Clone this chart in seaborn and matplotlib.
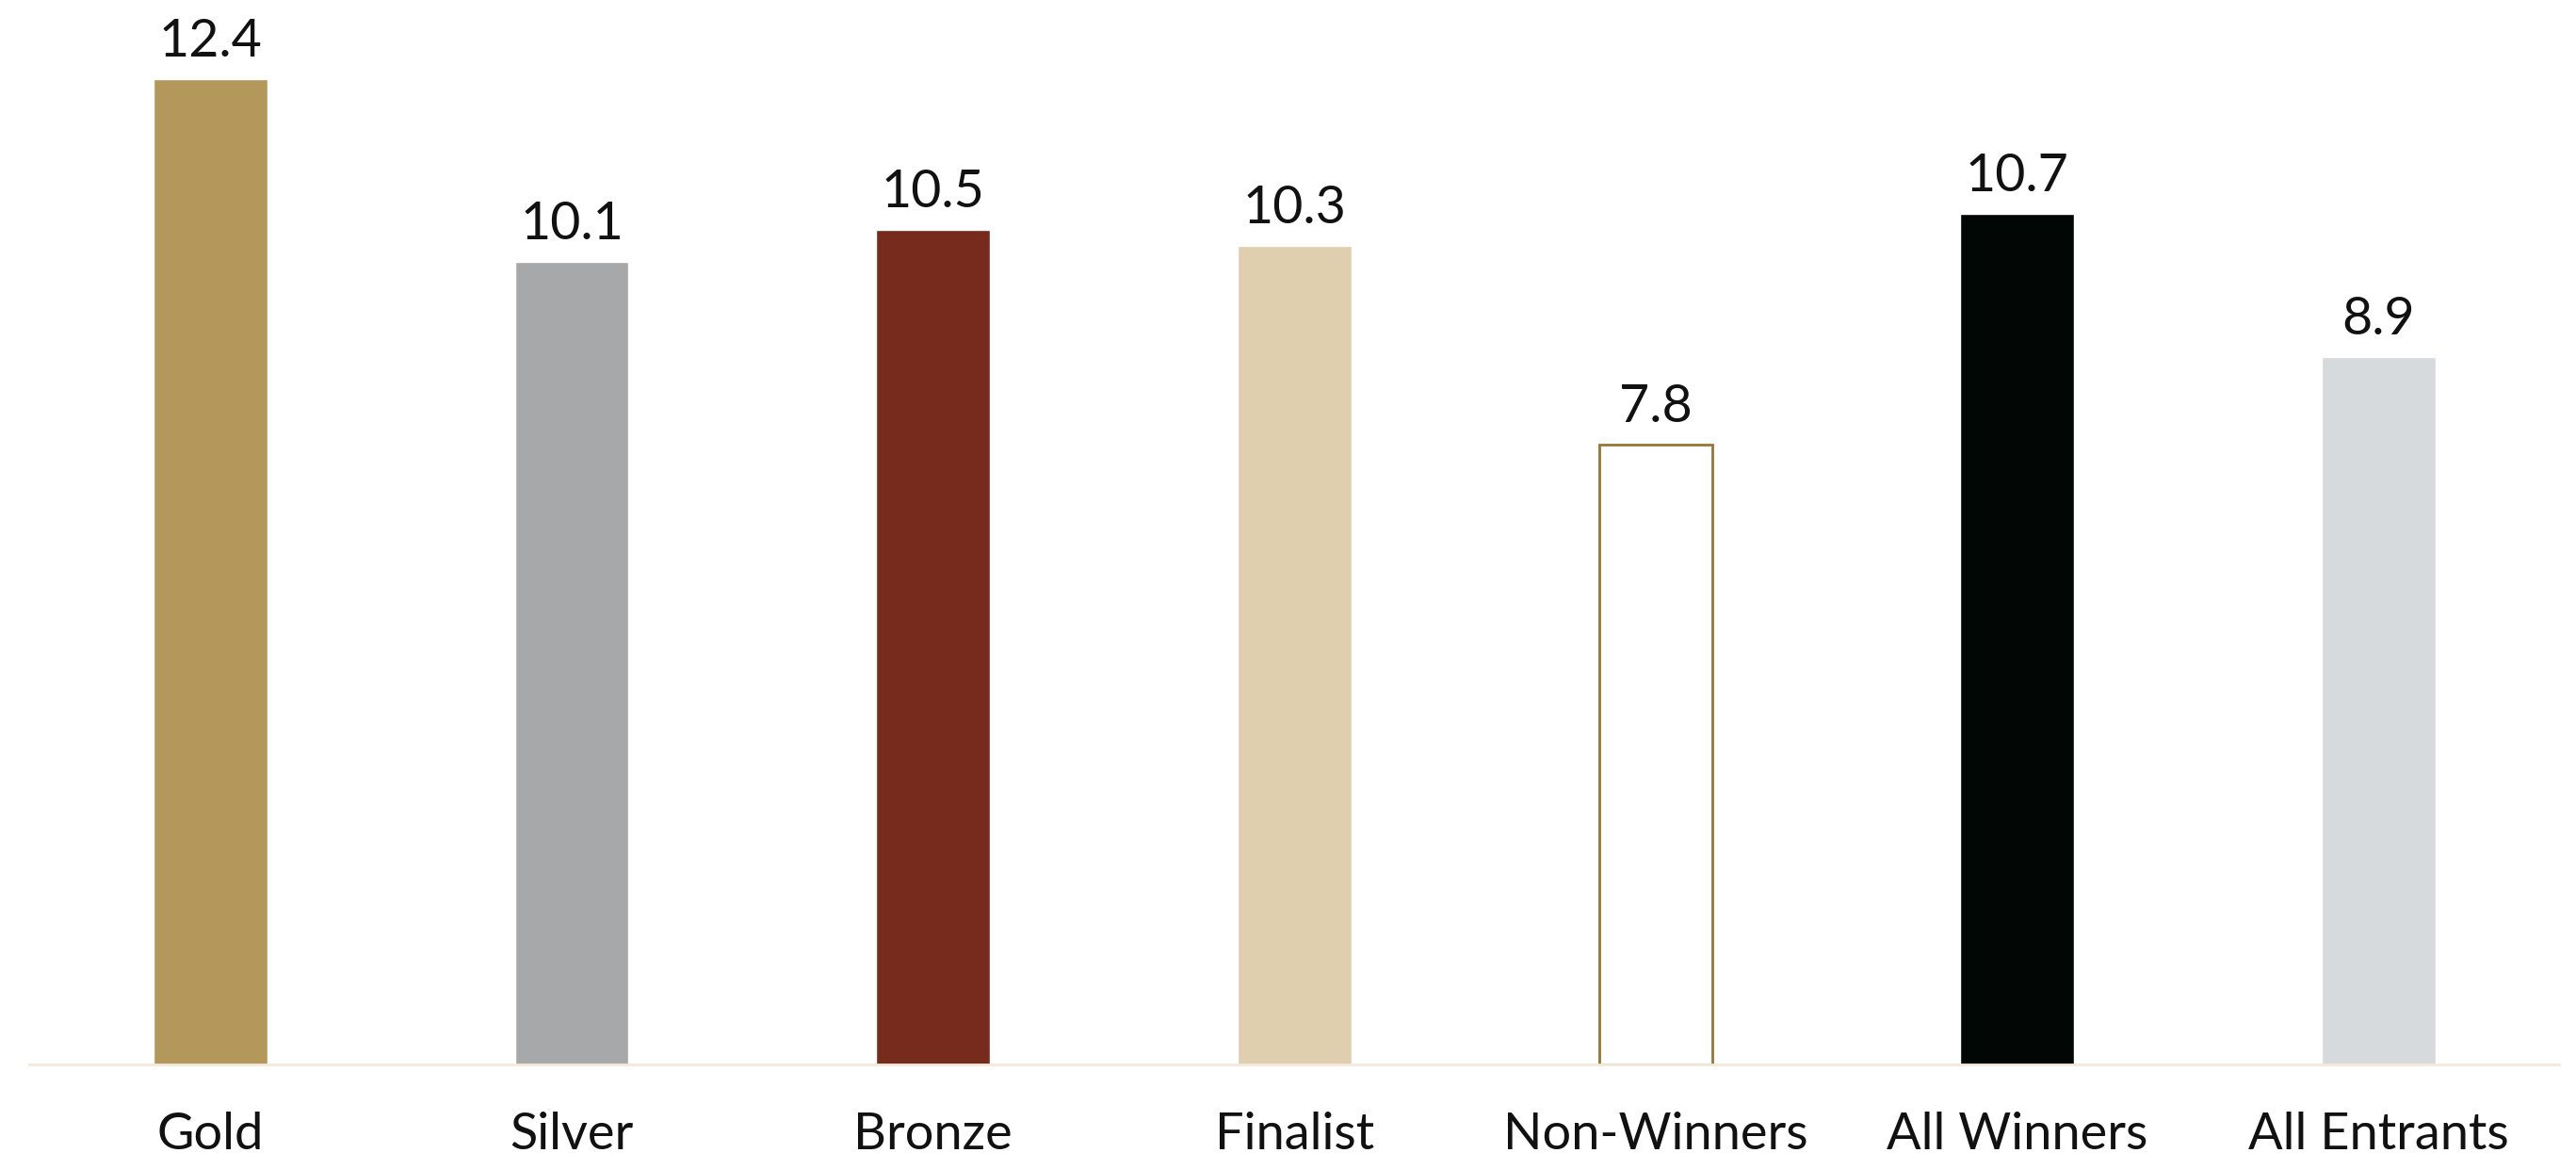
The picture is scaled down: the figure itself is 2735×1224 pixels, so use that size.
import matplotlib
matplotlib.use("Agg")
import matplotlib.pyplot as plt
import seaborn as sns
import pandas as pd

categories = ["Gold", "Silver", "Bronze", "Finalist", "Non-Winners", "All Winners", "All Entrants"]
values = [12.4, 10.1, 10.5, 10.3, 7.8, 10.7, 8.9]
colors = ["#B4975A", "#A7A8AA", "#772B1C", "#E0CFAF", "#FFFFFF", "#020605", "#D7DADD"]

sns.set_theme(style="white")
plt.rcParams["font.family"] = ["Lato", "DejaVu Sans"]

df = pd.DataFrame({"category": categories, "value": values})

fig = plt.figure(figsize=(27.35, 12.24), dpi=100)
ax = fig.add_axes([0.0115, 0.0769, 0.982, 0.9231])

sns.barplot(data=df, x="category", y="value", hue="category",
            palette=colors, order=categories, hue_order=categories,
            width=0.314, legend=False, saturation=1, ax=ax)

# outlined bar for the non-winners group
for patch, cat in zip(ax.patches, categories):
    if cat == "Non-Winners":
        patch.set_facecolor("white")
        patch.set_edgecolor("#957634")
        patch.set_linewidth(2.0)

for i, v in enumerate(values):
    ax.annotate(f"{v:.1f}", xy=(i, v), xytext=(0, 10), textcoords="offset points",
                ha="center", va="bottom", fontsize=40, color="#111111")

ax.set_xlim(-0.5, 6.5)
ax.set_ylim(0, 13.39)
for s in ["top", "right", "left"]:
    ax.spines[s].set_visible(False)
ax.spines["bottom"].set_color("#F3E9DC")
ax.spines["bottom"].set_linewidth(2)
ax.set_yticks([])
ax.set_xlabel("")
ax.set_ylabel("")
ax.tick_params(axis="x", length=0, pad=36, labelsize=39, labelcolor="#111111")

fig.savefig("out.png", dpi=100, facecolor="white")
